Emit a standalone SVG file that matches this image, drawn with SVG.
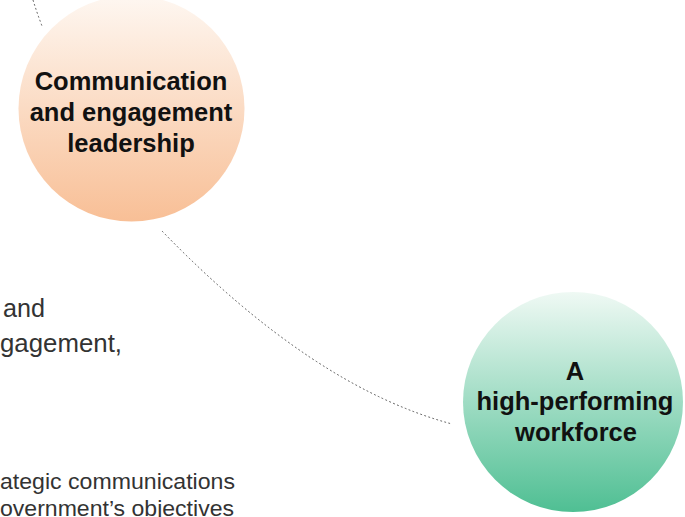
<svg xmlns="http://www.w3.org/2000/svg" width="685" height="517" viewBox="0 0 685 517">
  <defs>
    <linearGradient id="gOrange" x1="0" y1="0" x2="0" y2="1">
      <stop offset="0" stop-color="#fef7f1"/>
      <stop offset="1" stop-color="#f8bf96"/>
    </linearGradient>
    <linearGradient id="gGreen" x1="0" y1="0" x2="0" y2="1">
      <stop offset="0" stop-color="#eff9f4"/>
      <stop offset="1" stop-color="#4fbf93"/>
    </linearGradient>
  </defs>
  <style>
    .node-label { font-family: "Liberation Sans", Arial, sans-serif; font-weight: bold; font-size: 25.5px; fill: #111111; text-anchor: middle; }
    .body { font-family: "Liberation Sans", Arial, sans-serif; fill: #333333; }
    .big { font-size: 25px; }
    .small { font-size: 22px; }
    .conn { fill: none; stroke: #555555; stroke-width: 1; stroke-dasharray: 1.8 2.4; }
  </style>
  <rect width="685" height="517" fill="#ffffff"/>

  <g id="connectors">
    <path class="conn" d="M33,0 Q37,13 42,26"/>
    <path class="conn" d="M162,231 Q313,387 452,424"/>
  </g>

  <g id="node-communication">
    <circle cx="131.5" cy="108.5" r="113" fill="url(#gOrange)"/>
    <text class="node-label" x="131" y="90">Communication</text>
    <text class="node-label" x="131" y="121">and engagement</text>
    <text class="node-label" x="131" y="152">leadership</text>
  </g>

  <g id="node-workforce">
    <circle cx="573" cy="402" r="110" fill="url(#gGreen)"/>
    <text class="node-label" x="575" y="380">A</text>
    <text class="node-label" x="575" y="410">high-performing</text>
    <text class="node-label" x="576" y="441">workforce</text>
  </g>

  <g id="body-text">
    <text class="body big" x="3" y="317" textLength="42" lengthAdjust="spacingAndGlyphs">and</text>
    <text class="body big" x="0" y="352" textLength="122" lengthAdjust="spacingAndGlyphs">gagement,</text>
    <text class="body small" x="0" y="489" textLength="235" lengthAdjust="spacingAndGlyphs">ategic communications</text>
    <text class="body small" x="0" y="516" textLength="234" lengthAdjust="spacingAndGlyphs">overnment’s objectives</text>
  </g>
</svg>
